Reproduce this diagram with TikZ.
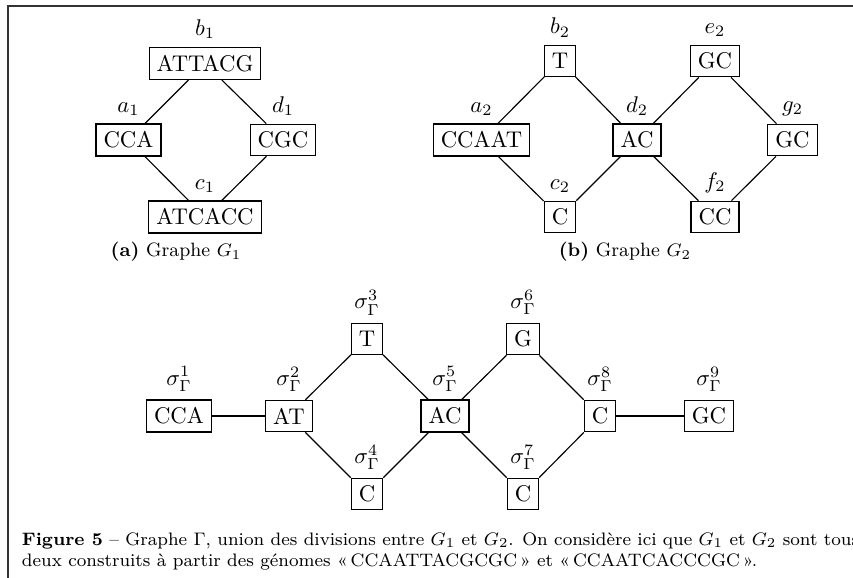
\documentclass[tikz,border=0pt]{standalone}
\begin{document}
\begin{tikzpicture}[x=0.4405pt,y=-0.4405pt,
  box/.style={draw,line width=0.5pt,inner sep=0.3333em,font=\fontsize{10}{12}\selectfont},
  lbl/.style={font=\fontsize{10}{12}\selectfont},
  edge/.style={line width=0.5pt},
  subcap/.style={font=\fontsize{8.5}{10}\selectfont,inner sep=0pt},
  captext/.style={font=\fontsize{7.95}{9.1}\selectfont,inner sep=0pt,anchor=base west}]
\useasboundingbox (0,0) rectangle (853,578);
\draw[line width=0.5pt,black!80] (8,578) -- (8,6) -- (853,6);
% G1
\node[box,label={[lbl]above:$b_1$}] (b1) at (205,63.5) {ATTACG};
\node[box,label={[lbl]above:$a_1$}] (a1) at (128.5,140) {CCA};
\node[box,label={[lbl]above:$d_1$}] (d1) at (283,140) {CGC};
\node[box,label={[lbl]above:$c_1$}] (c1) at (205,217) {ATCACC};
\draw[edge] (b1) -- (a1);
\draw[edge] (b1) -- (d1);
\draw[edge] (a1) -- (c1);
\draw[edge] (d1) -- (c1);
\node[subcap] (capa) at (176,252) {\textbf{(a)} Graphe $G_1$};
% G2
\node[box,label={[lbl]above:$a_2$}] (a2) at (481.5,140) {CCAAT};
\node[box,label={[lbl]above:$b_2$}] (b2) at (560,61) {T};
\node[box,label={[lbl]above:$c_2$}] (c2) at (560,217) {C};
\node[box,label={[lbl]above:$d_2$}] (d2) at (637,140) {AC};
\node[box,label={[lbl]above:$e_2$}] (e2) at (715,61) {GC};
\node[box,label={[lbl]above:$f_2$}] (f2) at (715,217) {CC};
\node[box,label={[lbl]above:$g_2$}] (g2) at (792.5,140) {GC};
\draw[edge] (a2) -- (b2);
\draw[edge] (a2) -- (c2);
\draw[edge] (b2) -- (d2);
\draw[edge] (c2) -- (d2);
\draw[edge] (d2) -- (e2);
\draw[edge] (d2) -- (f2);
\draw[edge] (e2) -- (g2);
\draw[edge] (f2) -- (g2);
\node[subcap] (capb) at (625,252) {\textbf{(b)} Graphe $G_2$};
% Gamma
\node[box,label={[lbl]above:$\sigma_\Gamma^1$}] (s1) at (179,416) {CCA};
\node[box,label={[lbl]above:$\sigma_\Gamma^2$}] (s2) at (289,416) {AT};
\node[box,label={[lbl]above:$\sigma_\Gamma^3$}] (s3) at (367,339) {T};
\node[box,label={[lbl]above:$\sigma_\Gamma^4$}] (s4) at (367,494) {C};
\node[box,label={[lbl]above:$\sigma_\Gamma^5$}] (s5) at (445,416) {AC};
\node[box,label={[lbl]above:$\sigma_\Gamma^6$}] (s6) at (523,339) {G};
\node[box,label={[lbl]above:$\sigma_\Gamma^7$}] (s7) at (523,494) {C};
\node[box,label={[lbl]above:$\sigma_\Gamma^8$}] (s8) at (600,416) {C};
\node[box,label={[lbl]above:$\sigma_\Gamma^9$}] (s9) at (709,416) {GC};
\draw[edge] (s1) -- (s2);
\draw[edge] (s2) -- (s3);
\draw[edge] (s2) -- (s4);
\draw[edge] (s3) -- (s5);
\draw[edge] (s4) -- (s5);
\draw[edge] (s5) -- (s6);
\draw[edge] (s5) -- (s7);
\draw[edge] (s6) -- (s8);
\draw[edge] (s7) -- (s8);
\draw[edge] (s8) -- (s9);
% caption
\node[captext] (cap1) at (21.5,545.3) {\textbf{Figure 5} -- Graphe $\Gamma$, union des divisions entre $G_1$ et $G_2$. On considère ici que $G_1$ et $G_2$ sont tous};
\node[captext] (cap2) at (21.5,566) {deux construits à partir des génomes «\,CCAATTACGCGC\,» et «\,CCAATCACCCGC\,».};
\end{tikzpicture}
\end{document}
